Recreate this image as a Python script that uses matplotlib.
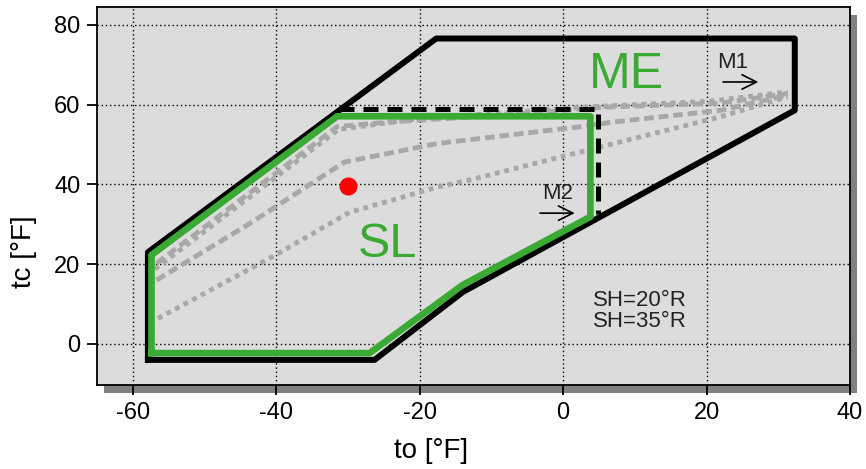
import matplotlib
matplotlib.use("Agg")
import matplotlib.pyplot as plt
from matplotlib.patches import Rectangle

plt.rcParams['font.family'] = ['Liberation Sans', 'DejaVu Sans']
plt.rcParams['axes.unicode_minus'] = False

# envelope (black solid outline)
outer_x = [-57.9, -57.9, -17.7, 32.3, 32.3, -14.0, -26.3, -57.9]
outer_y = [-4.0, 23.0, 76.6, 76.6, 58.6, 13.0, -4.0, -4.0]

# ME limit (black dashed)
me_x = [-31.2, 4.9, 4.9]
me_y = [59.0, 59.0, 32.5]

# SL envelope (green)
sl_x = [-57.4, -57.4, -31.5, 3.8, 3.8, -14.0, -27.0, -57.4]
sl_y = [-2.3, 22.3, 57.1, 57.1, 31.9, 14.8, -2.3, -2.3]

# superheat curves
sh20_hi_x = [-56.7, -31.5, -24.0, -10.0, 6.0, 22.0, 31.3]
sh20_hi_y = [20.2, 54.5, 55.7, 57.2, 59.4, 60.4, 62.8]
sh20_lo_x = [-56.7, -43.7, -30.5, -17.4, 2.5, 6.7, 22.0, 31.3]
sh20_lo_y = [16.0, 30.2, 45.6, 50.3, 54.5, 55.6, 58.6, 62.4]
sh35_hi_x = [-56.9, -31.3, -20.0, 5.0, 20.0, 31.3]
sh35_hi_y = [18.8, 53.8, 56.5, 59.6, 60.8, 63.2]
sh35_lo_x = [-56.5, -40.5, -29.8, -17.4, -12.6, 2.5, 22.0, 31.3]
sh35_lo_y = [6.4, 21.9, 33.0, 39.4, 41.3, 48.2, 57.0, 62.0]

# operating point
pt_x = [-30.0]
pt_y = [39.6]

x_ticks = [-60, -40, -20, 0, 20, 40]
y_ticks = [0, 20, 40, 60, 80]

GREEN = '#3aaa35'
GRAY = '#a8a8a8'

fig = plt.figure(figsize=(8.66, 4.69), dpi=100)
ax = fig.add_axes([97 / 866, 84 / 469, 753 / 866, 378 / 469])

# drop shadow behind the plot panel
shadow = Rectangle(((97 + 7) / 866, (84 - 8) / 469), 753 / 866, 378 / 469,
                   transform=fig.transFigure, facecolor='#808080', edgecolor='none', zorder=-1)
fig.add_artist(shadow)

ax.set_facecolor('#dcdcdc')
ax.set_xlim(-65, 40)
ax.set_ylim(-10.3, 84.5)
ax.set_xticks(x_ticks)
ax.set_yticks(y_ticks)
ax.tick_params(axis='both', labelsize=17, length=7, width=1.3, pad=5, colors='black')
ax.grid(True, color='black', linestyle=(0, (1, 2)), linewidth=1.0)
ax.set_axisbelow(True)
for s in ax.spines.values():
    s.set_linewidth(1.3)

# gray superheat lines
ax.plot(sh20_hi_x, sh20_hi_y, color=GRAY, lw=3.5, linestyle=(0, (2, 1)), zorder=2)
ax.plot(sh35_hi_x, sh35_hi_y, color=GRAY, lw=3.5, linestyle=(0, (1, 1)), zorder=2)
ax.plot(sh20_lo_x, sh20_lo_y, color=GRAY, lw=3.5, linestyle=(0, (2, 1)), zorder=2)
ax.plot(sh35_lo_x, sh35_lo_y, color=GRAY, lw=3.5, linestyle=(0, (1, 1)), zorder=2)

# envelopes
ax.plot(outer_x, outer_y, color='black', lw=4.3, zorder=3)
ax.plot(me_x, me_y, color='black', lw=3.6, linestyle=(0, (3, 1.8)), zorder=3)
ax.plot(sl_x, sl_y, color=GREEN, lw=4.8, zorder=4)

ax.plot(pt_x, pt_y, 'o', color='#ff0000', ms=12, zorder=5)

# labels
ax.text(8.8, 67.4, 'ME', color=GREEN, fontsize=36, ha='center', va='center', zorder=6)
ax.text(-24.5, 25.0, 'SL', color=GREEN, fontsize=35, ha='center', va='center', zorder=6)

ax.text(23.6, 70.5, 'M1', fontsize=16, ha='center', va='center', color='#222222', zorder=6)
ax.annotate('', xy=(27.6, 65.7), xytext=(21.9, 65.7),
            arrowprops=dict(arrowstyle='->', color='black', lw=1.2, mutation_scale=26), zorder=6)
ax.text(-0.8, 37.8, 'M2', fontsize=16, ha='center', va='center', color='#222222', zorder=6)
ax.annotate('', xy=(2.0, 32.8), xytext=(-3.6, 32.8),
            arrowprops=dict(arrowstyle='->', color='black', lw=1.2, mutation_scale=26), zorder=6)

ax.text(10.7, 8.3, 'SH=20°R\nSH=35°R', fontsize=16, ha='center', va='center',
        color='#222222', linespacing=1.0, zorder=6)

fig.text(431 / 866, 1 - 451 / 469, 'to [°F]', fontsize=20, ha='center', va='center')
fig.text(24 / 866, 1 - 252 / 469, 'tc [°F]', fontsize=20, ha='center', va='center', rotation=90)

fig.savefig('out.png', dpi=100)
